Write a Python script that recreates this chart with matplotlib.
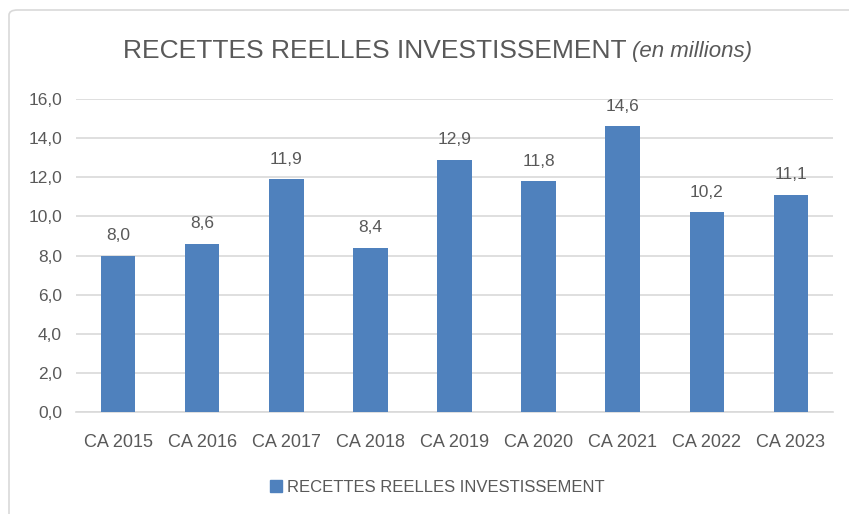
import matplotlib
matplotlib.use("Agg")
import matplotlib.pyplot as plt
from matplotlib.patches import FancyBboxPatch
from matplotlib import font_manager

categories = ["CA 2015", "CA 2016", "CA 2017", "CA 2018", "CA 2019",
              "CA 2020", "CA 2021", "CA 2022", "CA 2023"]
values = [8.0, 8.6, 11.9, 8.4, 12.9, 11.8, 14.6, 10.2, 11.1]
yticks = [0, 2, 4, 6, 8, 10, 12, 14, 16]
series_name = "RECETTES REELLES INVESTISSEMENT"

names = {f.name for f in font_manager.fontManager.ttflist}
font = "Liberation Sans Narrow" if "Liberation Sans Narrow" in names else "Liberation Sans"
plt.rcParams["font.family"] = [font, "DejaVu Sans"]

text_col = "#595959"
bar_col = "#4F81BD"
grid_col = "#D9D9D9"

fig = plt.figure(figsize=(8.49, 5.14), dpi=100)

# chart frame
frame = FancyBboxPatch((9 / 849, -0.1), 1.2, (514 - 10) / 514 + 0.1,
                       boxstyle="round,pad=0,rounding_size=0.01",
                       transform=fig.transFigure, fill=False,
                       edgecolor=grid_col, linewidth=1.2)
fig.patches.append(frame)

ax = fig.add_axes([76 / 849, (514 - 412) / 514, (833 - 76) / 849, 313 / 514])
x = list(range(len(categories)))
bars = ax.bar(x, values, width=0.41, color=bar_col, zorder=3)
ax.set_xlim(-0.5, len(categories) - 0.5)
ax.set_ylim(0, 16)
ax.set_yticks(yticks)
ax.set_yticklabels([f"{v:.1f}".replace(".", ",") for v in yticks])
ax.set_xticks(x)
ax.set_xticklabels(categories)
ax.tick_params(length=0, labelsize=12.5, colors=text_col)
ax.tick_params(axis="x", labelsize=13, pad=16)
ax.tick_params(axis="y", pad=10)
ax.grid(axis="y", color=grid_col, linewidth=1.2, zorder=0)
for s in ["top", "right", "left"]:
    ax.spines[s].set_visible(False)
ax.spines["bottom"].set_color(grid_col)
ax.spines["bottom"].set_linewidth(1.2)

for b, v in zip(bars, values):
    ax.annotate(f"{v:.1f}".replace(".", ","), (b.get_x() + b.get_width() / 2, v),
                xytext=(0, 9), textcoords="offset points", ha="center", va="bottom",
                fontsize=12.5, color=text_col)

# title: normal part + italic part
t1 = fig.text(123 / 849, 1 - 51 / 514, "RECETTES REELLES INVESTISSEMENT",
              fontsize=19, color=text_col, ha="left", va="center")
fig.canvas.draw()
bb = t1.get_window_extent()
fig.text(bb.x1 / 849 + 5 / 849, 1 - 52 / 514, "(en millions)", fontsize=16,
         style="italic", color=text_col, ha="left", va="center")

# legend
handle = plt.Rectangle((0, 0), 1, 1, color=bar_col)
fig.legend([handle], [series_name], loc="center", bbox_to_anchor=(437 / 849, 1 - 487 / 514),
           frameon=False, fontsize=12, labelcolor=text_col, handlelength=0.7,
           handleheight=0.7, handletextpad=0.3)

fig.savefig("out.png", dpi=100)
